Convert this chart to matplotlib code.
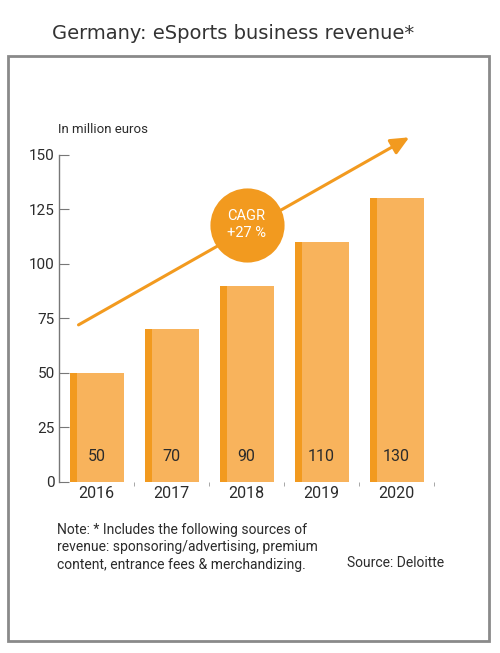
import matplotlib.pyplot as plt
from matplotlib.patches import Rectangle

years = ["2016", "2017", "2018", "2019", "2020"]
revenue = [50, 70, 90, 110, 130]
y_ticks = [0, 25, 50, 75, 100, 125, 150]

light = "#F8B35C"
dark = "#F29A1F"
text_col = "#2b2b2b"

plt.rcParams["font.family"] = ["Roboto", "DejaVu Sans"]

fig = plt.figure(figsize=(5, 6.53), dpi=100)
ax = fig.add_axes([0.118, 0.262, 0.75, 0.501])

x = list(range(len(years)))
w = 0.72
ax.bar(x, revenue, width=w, color=light, zorder=2)
# darker stripe on the left edge of every bar
ax.bar([i - w / 2 for i in x], revenue, width=0.105, align="edge", color=dark, zorder=3)

for i, v in zip(x, revenue):
    ax.text(i, 11.5, str(v), ha="center", va="center", fontsize=11.5, color=text_col, zorder=4)

ax.set_xlim(-0.5, 4.5)
ax.set_ylim(0, 150)
ax.set_yticks(y_ticks)
ax.set_xticks(x)
ax.set_xticklabels(years, fontsize=11.5, color=text_col)
ax.set_xticks([0.5, 1.5, 2.5, 3.5, 4.5], minor=True)
ax.tick_params(axis="x", which="major", length=0, pad=3)
ax.tick_params(axis="x", which="minor", length=3, color="#999999", direction="out")
ax.tick_params(axis="y", direction="in", length=7, color="#777777", labelsize=11,
               labelcolor=text_col, pad=3)
for s in ["top", "right", "bottom"]:
    ax.spines[s].set_visible(False)
ax.spines["left"].set_color("#777777")
ax.spines["left"].set_linewidth(1)

# CAGR arrow
ax.annotate("", xy=(4.17, 158), xytext=(-0.24, 72),
            arrowprops=dict(arrowstyle="-|>,head_length=1.1,head_width=0.5",
                            color=dark, lw=2.2, shrinkA=0, shrinkB=0),
            annotation_clip=False, zorder=5)
ax.scatter([2], [118], s=2850, color=dark, zorder=6, clip_on=False, linewidths=0)
ax.text(2, 118, "CAGR\n+27 %", ha="center", va="center", color="white",
        fontsize=10.5, linespacing=1.35, zorder=7)

# frame and texts
fig.patches.append(Rectangle((8 / 500, 1 - 641 / 653), 481 / 500, 585 / 653,
                             transform=fig.transFigure, fill=False,
                             edgecolor="#8a8a8a", linewidth=2))
fig.text(0.466, 0.949, "Germany: eSports business revenue*", ha="center", va="center",
         fontsize=14, color="#333333", family="DejaVu Sans")
fig.text(0.116, 0.801, "In million euros", ha="left", va="center", fontsize=9.5, color=text_col)
fig.text(0.114, 0.162,
         "Note: * Includes the following sources of\n"
         "revenue: sponsoring/advertising, premium\n"
         "content, entrance fees & merchandizing.",
         ha="left", va="center", fontsize=10, color=text_col, linespacing=1.3)
fig.text(0.694, 0.138, "Source: Deloitte", ha="left", va="center", fontsize=10, color=text_col)

fig.savefig("out.png", dpi=100)
